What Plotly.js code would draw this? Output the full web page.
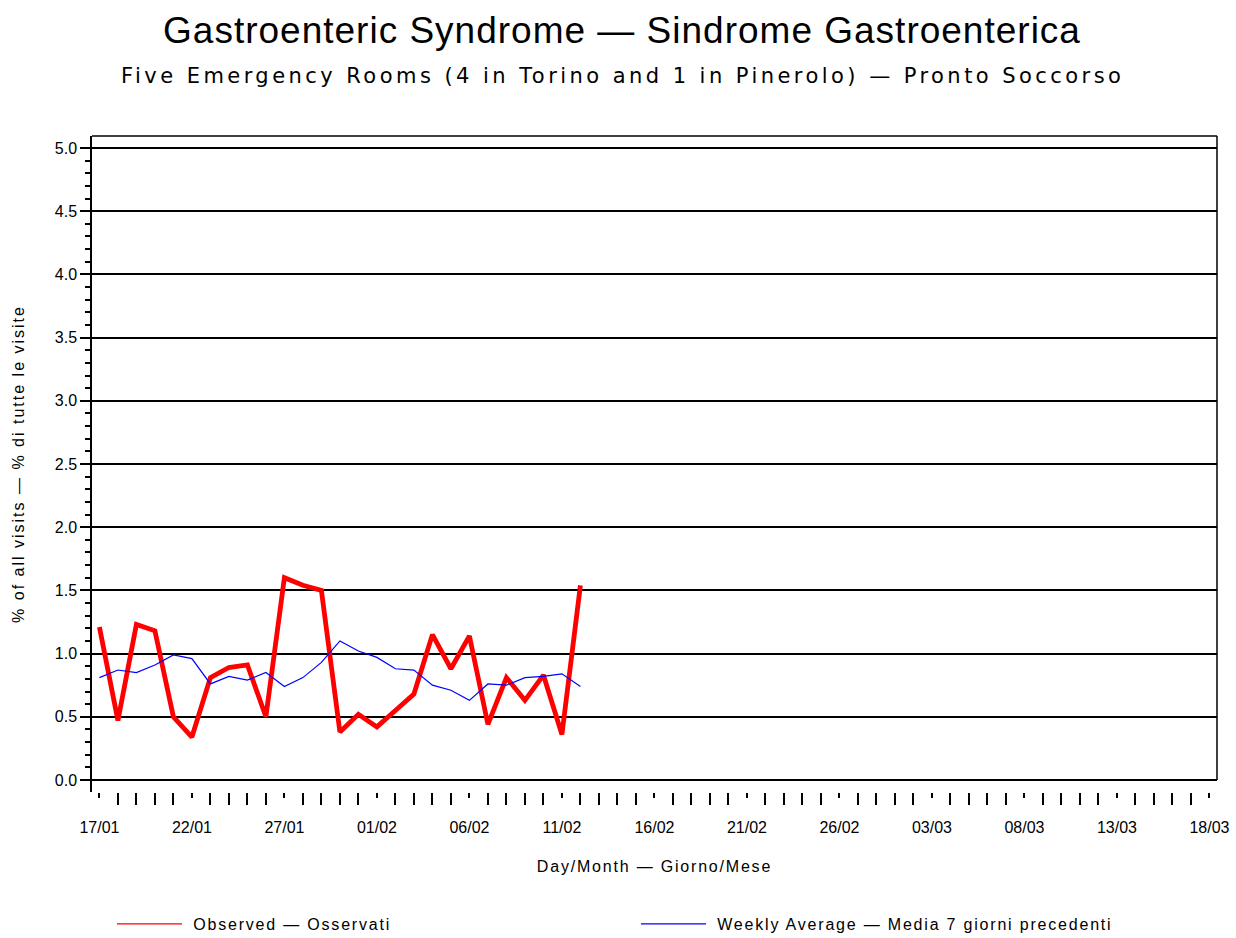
<!DOCTYPE html>
<html>
<head>
<meta charset="utf-8">
<script src="https://cdn.plot.ly/plotly-3.0.1.min.js"></script>
<style>
html,body{margin:0;padding:0;background:#fff;}
#chart{width:1236px;height:938px;}
.gtitle{letter-spacing:1px;}
.annotation-text{letter-spacing:3.45px;}
.xtitle{letter-spacing:1.8px;}
.ytitle{letter-spacing:2px;}
.legendtext, .legend text, .legend2 text, text.legendtext{letter-spacing:1.8px !important;}
</style>
</head>
<body>
<div id="chart"></div>
<script>
const dates = [
  '2010-01-17','2010-01-18','2010-01-19','2010-01-20','2010-01-21','2010-01-22','2010-01-23',
  '2010-01-24','2010-01-25','2010-01-26','2010-01-27','2010-01-28','2010-01-29','2010-01-30',
  '2010-01-31','2010-02-01','2010-02-02','2010-02-03','2010-02-04','2010-02-05','2010-02-06',
  '2010-02-07','2010-02-08','2010-02-09','2010-02-10','2010-02-11','2010-02-12'
];
const observed = [1.21,0.47,1.23,1.18,0.50,0.34,0.81,0.89,0.91,0.50,1.60,1.54,1.50,0.38,
                  0.52,0.42,0.55,0.68,1.15,0.88,1.14,0.44,0.81,0.63,0.83,0.36,1.54];
const weekly = [0.81,0.87,0.85,0.91,0.99,0.96,0.76,0.82,0.79,0.85,0.74,0.81,0.93,1.10,
                1.02,0.97,0.88,0.87,0.75,0.71,0.63,0.76,0.75,0.81,0.82,0.84,0.74];

const titleText = 'Gastroenteric Syndrome — Sindrome Gastroenterica';
const subtitleText = 'Five Emergency Rooms (4 in Torino and 1 in Pinerolo) — Pronto Soccorso';
const yTitle = '% of all visits — % di tutte le visite';
const xTitle = 'Day/Month — Giorno/Mese';
const obsName = 'Observed — Osservati';
const avgName = 'Weekly Average — Media 7 giorni precedenti';

const FONT = 'Liberation Sans, Arial, sans-serif';
const WIDE = 'DejaVu Sans, Liberation Sans, sans-serif';
const DAY = 86400000;
const RED = '#ff0000', BLUE = '#0000ff';

const traces = [
  {x: dates, y: observed, type: 'scatter', mode: 'lines', name: obsName, showlegend: false,
   line: {color: RED, width: 4.8}},
  {x: dates, y: weekly, type: 'scatter', mode: 'lines', name: avgName, showlegend: false,
   line: {color: BLUE, width: 1.2}},
  // legend entries (thin sample lines as in the reference legend)
  {x: [dates[0]], y: [null], type: 'scatter', mode: 'lines', name: '\u00a0' + obsName,
   line: {color: RED, width: 1.2}, legend: 'legend', hoverinfo: 'skip'},
  {x: [dates[0]], y: [null], type: 'scatter', mode: 'lines', name: '\u00a0' + avgName,
   line: {color: BLUE, width: 1.2}, legend: 'legend2', hoverinfo: 'skip'}
];

const legendCommon = {xref: 'container', yref: 'container', xanchor: 'left', yanchor: 'middle',
  orientation: 'h', bgcolor: 'rgba(0,0,0,0)', itemwidth: 65, entrywidthmode: 'pixels',
  font: {family: FONT, size: 16, color: '#000'}};

const layout = {
  width: 1236, height: 938,
  margin: {l: 92, r: 19, t: 136, b: 146},
  paper_bgcolor: '#fff', plot_bgcolor: '#fff',
  font: {family: FONT, size: 16, color: '#000'},
  title: {text: titleText, font: {family: FONT, size: 37, color: '#000'},
          x: 622/1236, xanchor: 'center', y: 1 - 30/938, yanchor: 'middle', yref: 'container'},
  annotations: [
    {text: subtitleText, xref: 'paper', yref: 'paper', x: (622 - 92)/1125, y: (792 - 76)/656,
     xanchor: 'center', yanchor: 'middle', showarrow: false,
     font: {family: WIDE, size: 21, color: '#000'}}
  ],
  xaxis: {
    type: 'date',
    range: [new Date(Date.UTC(2010,0,17) - 0.4*DAY).toISOString(), new Date(Date.UTC(2010,2,18) + 0.41*DAY).toISOString()],
    tick0: '2010-01-17', dtick: 5*DAY, tickformat: '%d/%m',
    ticks: 'outside', ticklen: 5, tickwidth: 1.5, tickcolor: '#000',
    minor: {dtick: DAY, tick0: '2010-01-17', ticks: 'outside', ticklen: 12, tickwidth: 1.5, tickcolor: '#000', showgrid: false},
    showline: false, showgrid: false, zeroline: false,
    ticklabelstandoff: 16,
    tickfont: {family: FONT, size: 16, color: '#000'},
    title: {text: xTitle, font: {family: FONT, size: 16, color: '#000'}, standoff: 25}
  },
  yaxis: {
    range: [-0.095, 5.095],
    tick0: 0, dtick: 0.5, tickformat: '.1f',
    ticks: 'outside', ticklen: 10, tickwidth: 1.5, tickcolor: '#000',
    minor: {dtick: 0.1, tick0: 0, ticks: 'outside', ticklen: 5, tickwidth: 1.5, tickcolor: '#000', showgrid: false},
    showline: true, linecolor: '#000', linewidth: 1.5,
    showgrid: true, gridcolor: '#000', gridwidth: 1.5, zeroline: false,
    tickfont: {family: FONT, size: 16, color: '#000'},
    title: {text: yTitle, font: {family: FONT, size: 16, color: '#000'}, standoff: 26}
  },
  shapes: [
    {type: 'line', xref: 'paper', yref: 'paper', x0: 0, x1: 1, y0: 1, y1: 1, line: {color: '#000', width: 1.5}},
    {type: 'line', xref: 'paper', yref: 'y', x0: 1, x1: 1, y0: 0, y1: 5.095, line: {color: '#000', width: 1.5}}
  ],
  showlegend: true,
  legend: Object.assign({}, legendCommon, {x: 112/1236, y: 14/938, entrywidth: 320}),
  legend2: Object.assign({}, legendCommon, {x: 636/1236, y: 14/938, entrywidth: 500})
};

Plotly.newPlot('chart', traces, layout, {displayModeBar: false, responsive: false});
</script>
</body>
</html>
